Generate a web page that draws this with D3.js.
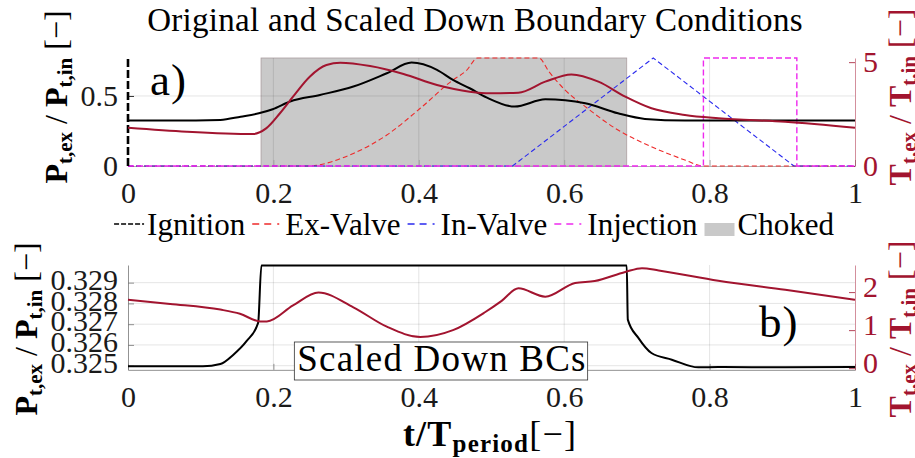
<!DOCTYPE html>
<html>
<head>
<meta charset="utf-8">
<script src="https://cdn.jsdelivr.net/npm/d3@7"></script>
<style>
body { margin: 0; background: #fff; }
text { font-family: "Liberation Serif", "Times New Roman", serif; }
</style>
</head>
<body>
<div id="chart"></div>
<script>
// x ticks (shared)
var xTicks = [0, 0.2, 0.4, 0.6, 0.8, 1];
var xTickLabels = ['0', '0.2', '0.4', '0.6', '0.8', '1'];

// a) original BCs
var pTopT = [0, 0.06, 0.127, 0.155, 0.18, 0.199, 0.223, 0.264, 0.31, 0.356, 0.39, 0.425, 0.447, 0.47, 0.493, 0.532, 0.574, 0.629, 0.674, 0.711, 0.766, 0.85, 1];
var pTopV = [0.324, 0.324, 0.329, 0.352, 0.376, 0.405, 0.46, 0.507, 0.567, 0.662, 0.738, 0.686, 0.614, 0.555, 0.49, 0.424, 0.476, 0.448, 0.376, 0.336, 0.324, 0.324, 0.324];
var tTopT = [0, 0.081, 0.172, 0.19, 0.209, 0.227, 0.25, 0.273, 0.292, 0.333, 0.379, 0.425, 0.47, 0.498, 0.537, 0.574, 0.61, 0.647, 0.684, 0.72, 0.766, 0.812, 0.904, 1];
var tTopV = [1.84, 1.65, 1.54, 1.81, 2.54, 3.34, 4.3, 4.86, 4.97, 4.81, 4.43, 3.9, 3.58, 3.5, 3.53, 4.06, 4.41, 4.06, 3.34, 2.78, 2.46, 2.3, 2.13, 1.84];
var exT = [0, 0.246, 0.31, 0.356, 0.402, 0.447, 0.465, 0.481, 0.565, 0.579, 0.601, 0.629, 0.674, 0.72, 0.766, 0.791, 1];
var exV = [0, 0, 0.09, 0.221, 0.412, 0.614, 0.679, 0.771, 0.771, 0.674, 0.543, 0.424, 0.257, 0.138, 0.043, 0, 0];
var inT = [0, 0.529, 0.7225, 0.916, 1];
var inV = [0, 0, 0.771, 0, 0];
var injT = [0, 0.7915, 0.7915, 0.92, 0.92, 1];
var injV = [0, 0, 0.771, 0.771, 0, 0];
var ignT = [0, 0];
var ignV = [0, 0.771];
var choked = [0.183, 0.686];
var topLeftTicks = [0, 0.5];
var topRightTicks = [0, 5];

// b) scaled down BCs
var pBotT = [0, 0.103, 0.127, 0.145, 0.163, 0.179, 0.1835, 0.686, 0.6875, 0.702, 0.72, 0.748, 0.7845, 0.812, 0.904, 1];
var pBotV = [0.32497, 0.32497, 0.32508, 0.32553, 0.32618, 0.32706, 0.32982, 0.32982, 0.32722, 0.32634, 0.32561, 0.32529, 0.32492, 0.32494, 0.32492, 0.32494];
var tBotT = [0, 0.058, 0.127, 0.154, 0.182, 0.191, 0.227, 0.262, 0.31, 0.356, 0.402, 0.447, 0.491, 0.514, 0.537, 0.574, 0.615, 0.642, 0.684, 0.707, 0.73, 0.812, 0.904, 1];
var tBotV = [1.80, 1.69, 1.54, 1.43, 1.23, 1.23, 1.65, 1.99, 1.60, 1.09, 0.82, 1.0, 1.47, 1.77, 2.10, 1.88, 2.24, 2.29, 2.53, 2.63, 2.57, 2.30, 2.06, 1.80];
var botLeftTicks = [0.325, 0.326, 0.327, 0.328, 0.329];
var botRightTicks = [0, 1, 2];

var legendNames = ['Ignition', 'Ex-Valve', 'In-Valve', 'Injection', 'Choked'];
var legendColors = ['#000', '#ee2a2a', '#2a2aee', '#ee2aee', '#c9c9c9'];

var crimson = '#A2142F';

var svg = d3.select('#chart').append('svg')
    .attr('width', 915)
    .attr('height', 458);

var x = d3.scaleLinear().domain([0, 1]).range([128, 855]);
var yA = d3.scaleLinear().domain([0, 0.771]).range([166, 58]);
var yAr = d3.scaleLinear().domain([0, 5.2]).range([166, 58]);
var yB = d3.scaleLinear().domain([0.3248, 0.32985]).range([369.85, 265]);
var yBr = d3.scaleLinear().domain([-0.0445, 2.7125]).range([369.85, 265]);

var defs = svg.append('defs');
defs.append('clipPath').attr('id', 'clipA').append('rect')
    .attr('x', 126).attr('y', 56).attr('width', 731).attr('height', 112);
defs.append('clipPath').attr('id', 'clipB').append('rect')
    .attr('x', 126).attr('y', 264).attr('width', 731).attr('height', 107);

function mkLine(xs, ys, sx, sy, curve) {
    var pts = xs.map(function(d, i) { return [d, ys[i]]; });
    return d3.line()
        .x(function(d) { return sx(d[0]); })
        .y(function(d) { return sy(d[1]); })
        .curve(curve || d3.curveLinear)(pts);
}

function grid(g, sy, yTicks) {
    g.selectAll('.vg').data(xTicks.slice(1, -1)).enter().append('line')
        .attr('x1', function(d) { return x(d); }).attr('x2', function(d) { return x(d); })
        .attr('y1', sy.range()[0]).attr('y2', sy.range()[1])
        .attr('stroke', '#262626').attr('stroke-opacity', 0.15).attr('stroke-width', 0.8);
    g.selectAll('.hg').data(yTicks).enter().append('line')
        .attr('x1', 128).attr('x2', 855)
        .attr('y1', function(d) { return sy(d); }).attr('y2', function(d) { return sy(d); })
        .attr('stroke', '#262626').attr('stroke-opacity', 0.15).attr('stroke-width', 0.8);
}

function styleAxis(g, color, domainColor) {
    g.selectAll('text').style('font-size', '30px').attr('fill', color);
    g.selectAll('.tick line').attr('stroke', domainColor).attr('stroke-width', 0.8);
    g.select('.domain').attr('stroke', domainColor).attr('stroke-width', 0.8);
}

// ---------- a) ----------
var gA = svg.append('g');
gA.append('rect')
    .attr('x', x(choked[0])).attr('y', yA(0.771))
    .attr('width', x(choked[1]) - x(choked[0])).attr('height', yA(0) - yA(0.771))
    .attr('fill', '#c9c9c9').attr('stroke', '#ab9ea0').attr('stroke-width', 0.8);
grid(gA, yA, [0.5]);

var axA = gA.append('g').attr('transform', 'translate(0,166)')
    .call(d3.axisBottom(x).tickValues(xTicks).tickFormat(function(d, i) { return xTickLabels[i]; })
        .tickSizeInner(-6).tickSizeOuter(0).tickPadding(16));
styleAxis(axA, '#1a1a1a', '#999');
var ayA = gA.append('g').attr('transform', 'translate(128,0)')
    .call(d3.axisLeft(yA).tickValues(topLeftTicks).tickFormat(d3.format('')).tickSizeInner(-6).tickSizeOuter(0).tickPadding(10));
styleAxis(ayA, '#1a1a1a', '#000');
ayA.select('.domain').attr('stroke', 'none');
var ayAr = gA.append('g').attr('transform', 'translate(855,0)')
    .call(d3.axisRight(yAr).tickValues(topRightTicks).tickFormat(d3.format('')).tickSizeInner(-6).tickSizeOuter(0).tickPadding(8));
styleAxis(ayAr, crimson, crimson);
ayAr.select('.domain').attr('stroke-opacity', 0.6);

var plotA = gA.append('g').attr('clip-path', 'url(#clipA)');
plotA.append('path').attr('d', mkLine(exT, exV, x, yA, d3.curveMonotoneX))
    .attr('fill', 'none').attr('stroke', legendColors[1]).attr('stroke-width', 1.1).attr('stroke-dasharray', '5,3');
plotA.append('path').attr('d', mkLine(inT, inV, x, yA))
    .attr('fill', 'none').attr('stroke', legendColors[2]).attr('stroke-width', 1.1).attr('stroke-dasharray', '5,3');
plotA.append('path').attr('d', mkLine(injT, injV, x, yA))
    .attr('fill', 'none').attr('stroke', legendColors[3]).attr('stroke-width', 1.4).attr('stroke-dasharray', '6,3');
plotA.append('path').attr('d', mkLine(ignT, ignV, x, yA))
    .attr('fill', 'none').attr('stroke', '#000').attr('stroke-width', 2.6).attr('stroke-dasharray', '8,3');
plotA.append('path').attr('d', mkLine(pTopT, pTopV, x, yA, d3.curveMonotoneX))
    .attr('fill', 'none').attr('stroke', '#000').attr('stroke-width', 2);
plotA.append('path').attr('d', mkLine(tTopT, tTopV, x, yAr, d3.curveMonotoneX))
    .attr('fill', 'none').attr('stroke', crimson).attr('stroke-width', 2);

svg.append('text').attr('x', 150).attr('y', 95).style('font-size', '45px')
    .style('letter-spacing', '1px').attr('fill', '#000').text('a)');

// ---------- b) ----------
var gB = svg.append('g');
grid(gB, yB, botLeftTicks);
var axB = gB.append('g').attr('transform', 'translate(0,369.85)')
    .call(d3.axisBottom(x).tickValues(xTicks).tickFormat(function(d, i) { return xTickLabels[i]; })
        .tickSizeInner(-6).tickSizeOuter(0).tickPadding(16));
styleAxis(axB, '#1a1a1a', '#777');
var ayB = gB.append('g').attr('transform', 'translate(128,0)')
    .call(d3.axisLeft(yB).tickValues(botLeftTicks).tickFormat(d3.format('.3f')).tickSizeInner(-6).tickSizeOuter(0).tickPadding(10));
styleAxis(ayB, '#1a1a1a', '#777');
ayB.selectAll('text').attr('dy', '0.22em');
var ayBr = gB.append('g').attr('transform', 'translate(855,0)')
    .call(d3.axisRight(yBr).tickValues(botRightTicks).tickFormat(d3.format('')).tickSizeInner(-6).tickSizeOuter(0).tickPadding(8));
styleAxis(ayBr, crimson, crimson);
ayBr.select('.domain').attr('stroke-opacity', 0.6);
ayBr.selectAll('text').attr('dy', '0.15em');

var plotB = gB.append('g').attr('clip-path', 'url(#clipB)');
plotB.append('path').attr('d', mkLine(pBotT, pBotV, x, yB, d3.curveMonotoneX))
    .attr('fill', 'none').attr('stroke', '#000').attr('stroke-width', 2);
plotB.append('path').attr('d', mkLine(tBotT, tBotV, x, yBr, d3.curveMonotoneX))
    .attr('fill', 'none').attr('stroke', crimson).attr('stroke-width', 2);

svg.append('text').attr('x', 759).attr('y', 337).style('font-size', '45px')
    .style('letter-spacing', '1px').attr('fill', '#000').text('b)');

var note = svg.append('g');
var noteText = note.append('text').attr('x', 442).attr('y', 371).attr('text-anchor', 'middle')
    .style('font-size', '37px').style('letter-spacing', '1.2px').attr('fill', '#000').text('Scaled Down BCs');
var nb = noteText.node().getBBox();
note.insert('rect', 'text')
    .attr('x', nb.x - 3).attr('y', 342).attr('width', nb.width + 4).attr('height', 38)
    .attr('fill', '#fff').attr('stroke', '#333').attr('stroke-width', 0.8);

// ---------- texts ----------
svg.append('text').attr('x', 475).attr('y', 31).attr('text-anchor', 'middle')
    .style('font-size', '33px').style('letter-spacing', '0.3px').attr('fill', '#000')
    .text('Original and Scaled Down Boundary Conditions');

function yLabel(x0, yc, letter, color) {
    var t = svg.append('text')
        .attr('transform', 'translate(' + x0 + ',' + yc + ') rotate(-90)')
        .attr('text-anchor', 'middle').attr('fill', color).style('font-size', '32px');
    t.append('tspan').attr('font-weight', 'bold').text(letter);
    t.append('tspan').attr('font-weight', 'bold').style('font-size', '21px').attr('dy', 5).text('t,ex');
    t.append('tspan').attr('dy', -5).text(' / ');
    t.append('tspan').attr('font-weight', 'bold').text(letter);
    t.append('tspan').attr('font-weight', 'bold').style('font-size', '21px').attr('dy', 5).text('t,in');
    t.append('tspan').attr('dy', -5).text(' [\u2212]');
}
yLabel(67, 97, 'P', '#000');
yLabel(37, 329, 'P', '#000');
yLabel(911, 97, 'T', crimson);
yLabel(911, 329, 'T', crimson);

var xl = svg.append('text').attr('x', 490).attr('y', 446).attr('text-anchor', 'middle')
    .attr('fill', '#000').style('font-size', '36px').style('letter-spacing', '1.2px');
xl.append('tspan').attr('font-weight', 'bold').text('t/T');
xl.append('tspan').attr('font-weight', 'bold').style('font-size', '25px').attr('dy', 6).text('period');
xl.append('tspan').attr('dy', -6).text('[\u2212]');

// ---------- legend ----------
var leg = svg.append('g');
var lx = 0;
legendNames.forEach(function(name, i) {
    var item = leg.append('g').attr('transform', 'translate(' + lx + ',0)');
    if (i < 4) {
        item.append('line').attr('x1', 0).attr('x2', 30).attr('y1', 224).attr('y2', 224)
            .attr('stroke', legendColors[i]).attr('stroke-width', i == 0 ? 1.6 : 1.3)
            .attr('stroke-dasharray', i == 0 ? '5,2' : '7,5,7,6,2,20');
    } else {
        item.append('rect').attr('x', 0).attr('y', 223).attr('width', 30).attr('height', 13)
            .attr('fill', legendColors[i]);
    }
    var t = item.append('text').attr('x', 33).attr('y', 235)
        .style('font-size', '31px').attr('fill', '#000').text(name);
    lx += 33 + t.node().getComputedTextLength() + 7;
});
leg.attr('transform', 'translate(' + (474 - (lx - 7) / 2) + ',0)');
</script>
</body>
</html>
